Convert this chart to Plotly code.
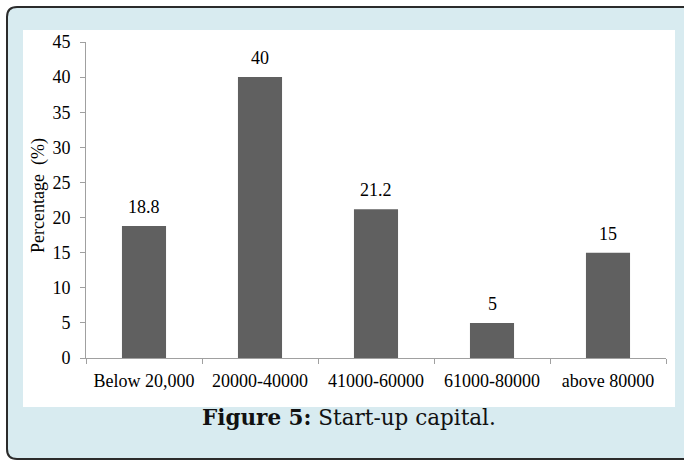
import plotly.graph_objects as go

categories = ["Below 20,000", "20000-40000", "41000-60000", "61000-80000", "above 80000"]
values = [18.8, 40, 21.2, 5, 15]
labels = ["18.8", "40", "21.2", "5", "15"]
yticks = [0, 5, 10, 15, 20, 25, 30, 35, 40, 45]

W, H = 684, 461
def px(x): return x / W
def py(y): return 1 - y / H

SERIF = "Liberation Serif, Times New Roman, serif"

fig = go.Figure()
fig.add_trace(go.Bar(x=categories, y=values, marker=dict(color="#606060", line=dict(width=0)),
                     width=0.38, hoverinfo="skip"))

for c, v, t in zip(categories, values, labels):
    fig.add_annotation(x=c, y=v, text=t, showarrow=False, yanchor="bottom", yshift=7,
                       font=dict(family=SERIF, size=18, color="#000"))

# outer frame (rounded)
r = 10
x0, y0, x1, y1 = 7, 7, 690, 459
path = (f"M {px(x0)},{py(y0 + r)} Q {px(x0)},{py(y0)} {px(x0 + r)},{py(y0)} "
        f"L {px(x1)},{py(y0)} L {px(x1)},{py(y1)} L {px(x0 + r)},{py(y1)} "
        f"Q {px(x0)},{py(y1)} {px(x0)},{py(y1 - r)} Z")
shapes = [
    dict(type="path", path=path, xref="paper", yref="paper", fillcolor="#d8ebf0",
         line=dict(color="#2b2b2b", width=2), layer="below"),
    dict(type="rect", xref="paper", yref="paper", x0=px(23), x1=px(675), y0=py(30), y1=py(407),
         fillcolor="#ffffff", line=dict(width=0), layer="below"),
]

fig.add_annotation(xref="paper", yref="paper", x=px(38), y=py(196), text="Percentage  (%)",
                   textangle=-90, showarrow=False, xanchor="center", yanchor="middle",
                   font=dict(family=SERIF, size=18, color="#000"))
fig.add_annotation(xref="paper", yref="paper", x=px(349), y=py(432),
                   text="<b>Figure 5:</b> Start-up capital.", showarrow=False,
                   font=dict(family="DejaVu Serif", size=21.5, color="#111"))

fig.update_layout(
    width=W, height=H, margin=dict(l=0, r=0, t=0, b=0, pad=0, autoexpand=False),
    paper_bgcolor="#ffffff", plot_bgcolor="rgba(0,0,0,0)",
    showlegend=False, shapes=shapes, bargap=0.62,
    xaxis=dict(domain=[px(86), px(666)], showline=True, linecolor="#a0a0a0", linewidth=1,
               ticks="outside", tickson="boundaries", ticklen=5, tickcolor="#a0a0a0",
               showgrid=False, automargin=False,
               tickfont=dict(family=SERIF, size=18, color="#000"), ticklabelstandoff=6),
    yaxis=dict(domain=[py(358), py(42)], range=[0, 45], tickvals=yticks, showline=True,
               linecolor="#a0a0a0", linewidth=1, ticks="outside", ticklen=5, tickcolor="#a0a0a0",
               showgrid=False, zeroline=False, automargin=False,
               tickfont=dict(family=SERIF, size=18, color="#000"), ticklabelstandoff=6),
)
fig.write_html("out.html")
